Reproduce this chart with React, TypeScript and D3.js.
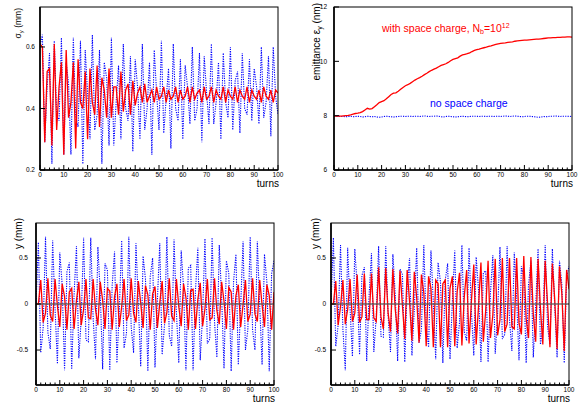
import * as d3 from 'd3';

const W = 579;
const H = 407;
const FONT = '"Liberation Sans", Arial, Helvetica, sans-serif';
const RED = '#ff0000';
const BLUE = '#0000ff';

// turn number is the array index (0..100)
const xTicks = [0, 10, 20, 30, 40, 50, 60, 70, 80, 90, 100];
const xMinorTicks = d3.range(0, 101, 2);

const sigmaTicks = [0.2, 0.4, 0.6];
const emitTicks = [6, 8, 10, 12];
const yTicks = [-0.5, 0, 0.5];

// rms beam size sigma_y (mm)
const sigmaNoSC = [
  0.60, 0.64, 0.29, 0.47, 0.58, 0.22, 0.62, 0.38, 0.36, 0.63,
  0.25, 0.55, 0.48, 0.25, 0.63, 0.37, 0.34, 0.62, 0.22, 0.59,
  0.45, 0.30, 0.64, 0.33, 0.38, 0.59, 0.22, 0.55, 0.50, 0.28,
  0.63, 0.28, 0.42, 0.54, 0.30, 0.61, 0.40, 0.36, 0.57, 0.26,
  0.56, 0.47, 0.30, 0.61, 0.33, 0.40, 0.55, 0.25, 0.59, 0.45,
  0.33, 0.62, 0.32, 0.43, 0.53, 0.27, 0.61, 0.40, 0.36, 0.56,
  0.30, 0.54, 0.47, 0.35, 0.60, 0.36, 0.40, 0.58, 0.29, 0.57,
  0.45, 0.35, 0.61, 0.35, 0.42, 0.55, 0.30, 0.58, 0.42, 0.37,
  0.60, 0.33, 0.49, 0.52, 0.32, 0.58, 0.40, 0.38, 0.56, 0.36,
  0.53, 0.47, 0.35, 0.60, 0.37, 0.42, 0.57, 0.31, 0.60, 0.44,
  0.38,
];
const sigmaSC = [
  0.61, 0.60, 0.29, 0.52, 0.53, 0.28, 0.61, 0.33, 0.47, 0.55,
  0.25, 0.59, 0.37, 0.42, 0.55, 0.27, 0.56, 0.42, 0.40, 0.52,
  0.30, 0.53, 0.42, 0.38, 0.54, 0.34, 0.50, 0.46, 0.37, 0.53,
  0.37, 0.47, 0.47, 0.38, 0.52, 0.39, 0.46, 0.48, 0.38, 0.49,
  0.41, 0.45, 0.47, 0.42, 0.48, 0.42, 0.44, 0.46, 0.42, 0.47,
  0.43, 0.44, 0.47, 0.42, 0.46, 0.43, 0.44, 0.47, 0.42, 0.46,
  0.43, 0.44, 0.47, 0.42, 0.47, 0.43, 0.45, 0.46, 0.42, 0.47,
  0.43, 0.44, 0.47, 0.42, 0.46, 0.44, 0.43, 0.47, 0.42, 0.46,
  0.44, 0.43, 0.47, 0.42, 0.46, 0.44, 0.43, 0.47, 0.42, 0.46,
  0.44, 0.43, 0.46, 0.42, 0.47, 0.44, 0.43, 0.46, 0.42, 0.46,
  0.45,
];

// emittance eps_y (nm)
const emitNoSC = [
  7.99, 7.98, 7.98, 7.97, 7.97, 7.96, 7.97, 7.98, 7.96, 7.97,
  7.98, 7.97, 7.95, 7.96, 7.98, 7.97, 7.96, 7.97, 7.95, 7.94,
  7.95, 7.97, 7.98, 7.97, 7.96, 7.95, 7.96, 7.97, 7.98, 7.98,
  7.97, 7.98, 7.98, 7.97, 7.98, 7.98, 7.97, 7.98, 7.99, 7.98,
  7.97, 7.98, 7.98, 7.99, 7.98, 7.96, 7.95, 7.97, 7.98, 7.97,
  7.96, 7.95, 7.96, 7.97, 7.98, 7.97, 7.96, 7.97, 7.98, 7.98,
  7.98, 7.97, 7.98, 7.98, 7.97, 7.98, 7.98, 7.97, 7.98, 7.98,
  7.97, 7.98, 7.99, 7.98, 7.97, 7.98, 7.99, 7.98, 7.97, 7.96,
  7.97, 7.98, 7.98, 7.97, 7.96, 7.95, 7.94, 7.95, 7.97, 7.96,
  7.97, 7.98, 7.98, 7.99, 7.98, 7.97, 7.98, 7.98, 7.98, 7.97,
  7.98,
];
const emitSC = [
  7.98, 7.98, 7.98, 7.98, 7.99, 8.00, 8.01, 8.03, 8.06, 8.08,
  8.09, 8.11, 8.15, 8.21, 8.27, 8.24, 8.26, 8.33, 8.40, 8.48,
  8.52, 8.55, 8.62, 8.70, 8.78, 8.83, 8.84, 8.90, 8.97, 9.04,
  9.10, 9.14, 9.19, 9.25, 9.31, 9.36, 9.40, 9.45, 9.51, 9.56,
  9.62, 9.67, 9.71, 9.75, 9.80, 9.85, 9.88, 9.91, 9.96, 10.02,
  10.07, 10.10, 10.13, 10.19, 10.24, 10.26, 10.28, 10.31, 10.36, 10.40,
  10.43, 10.45, 10.48, 10.50, 10.52, 10.55, 10.57, 10.60, 10.62, 10.64,
  10.66, 10.67, 10.68, 10.70, 10.71, 10.72, 10.74, 10.75, 10.76, 10.77,
  10.78, 10.78, 10.79, 10.80, 10.81, 10.82, 10.82, 10.83, 10.84, 10.85,
  10.86, 10.86, 10.87, 10.87, 10.88, 10.88, 10.89, 10.89, 10.90, 10.90,
  10.89,
];

// centroid y (mm), left case
const yNoSC1 = [
  0.00, 0.67, -0.53, -0.26, 0.73, -0.31, -0.49, 0.69, -0.05, -0.65,
  0.56, 0.21, -0.72, 0.35, 0.45, -0.71, 0.10, 0.63, -0.59, -0.16,
  0.72, -0.39, -0.41, 0.72, -0.15, -0.60, 0.62, 0.12, -0.71, 0.44,
  0.37, -0.72, 0.20, 0.57, -0.64, -0.07, 0.69, -0.48, -0.32, 0.73,
  -0.25, -0.53, 0.66, 0.01, -0.68, 0.52, 0.27, -0.73, 0.30, 0.50,
  -0.69, 0.04, 0.66, -0.55, -0.23, 0.73, -0.34, -0.46, 0.70, -0.09,
  -0.64, 0.58, 0.18, -0.72, 0.39, 0.42, -0.72, 0.14, 0.61, -0.61,
  -0.12, 0.71, -0.43, -0.38, 0.72, -0.19, -0.58, 0.64, 0.07, -0.70,
  0.47, 0.33, -0.73, 0.24, 0.54, -0.66, -0.02, 0.68, -0.50, -0.28,
  0.73, -0.28, -0.50, 0.68, -0.02, -0.66, 0.54, 0.24, -0.73, 0.33,
  0.47,
];
const ySC1 = [
  0.00, 0.00, 0.26, -0.20, -0.10, 0.28, -0.12, -0.19, 0.27, -0.02,
  -0.25, 0.22, 0.08, -0.28, 0.13, 0.17, -0.27, 0.04, 0.24, -0.23,
  -0.06, 0.27, -0.15, -0.16, 0.27, -0.06, -0.23, 0.24, 0.04, -0.27,
  0.17, 0.14, -0.28, 0.08, 0.22, -0.25, -0.03, 0.27, -0.18, -0.12,
  0.28, -0.10, -0.20, 0.25, 0.01, -0.26, 0.20, 0.10, -0.28, 0.11,
  0.19, -0.26, 0.01, 0.25, -0.21, -0.09, 0.28, -0.13, -0.18, 0.27,
  -0.03, -0.24, 0.22, 0.07, -0.28, 0.15, 0.16, -0.27, 0.05, 0.23,
  -0.24, -0.05, 0.27, -0.17, -0.15, 0.28, -0.07, -0.22, 0.24, 0.03,
  -0.27, 0.18, 0.13, -0.28, 0.09, 0.21, -0.25, -0.01, 0.26, -0.19,
  -0.11, 0.28, -0.11, -0.19, 0.26, -0.01, -0.25, 0.21, 0.09, -0.28,
  0.13,
];

// centroid y (mm), right case
const yNoSC2 = [
  0.00, 0.72, -0.46, -0.23, 0.64, -0.27, -0.72, 0.61, -0.04, -0.57,
  0.60, 0.19, -0.55, 0.31, 0.40, -0.62, 0.09, 0.55, -0.52, -0.14,
  0.63, -0.35, -0.36, 0.63, -0.13, -0.52, 0.54, 0.10, -0.62, 0.38,
  0.32, -0.63, 0.18, 0.50, -0.56, -0.06, 0.61, -0.42, -0.28, 0.64,
  -0.22, -0.47, 0.58, 0.01, -0.60, 0.45, 0.24, -0.64, 0.26, 0.44,
  -0.60, 0.03, 0.58, -0.48, -0.20, 0.64, -0.30, -0.40, 0.61, -0.08,
  -0.56, 0.51, 0.15, -0.63, 0.34, 0.36, -0.63, 0.12, 0.53, -0.54,
  -0.11, 0.62, -0.38, -0.33, 0.63, -0.17, -0.51, 0.56, 0.06, -0.61,
  0.41, 0.29, -0.64, 0.21, 0.47, -0.58, -0.02, 0.60, -0.44, -0.25,
  0.64, -0.25, -0.44, 0.60, -0.02, -0.58, 0.47, 0.21, -0.64, 0.29,
  0.41,
];
const ySC2 = [
  0.00, 0.00, 0.25, -0.23, -0.03, 0.26, -0.22, -0.06, 0.27, -0.19,
  -0.10, 0.32, -0.20, -0.14, 0.33, -0.17, -0.17, 0.33, -0.15, -0.19,
  0.40, -0.14, -0.27, 0.39, -0.10, -0.30, 0.38, -0.06, -0.32, 0.36,
  -0.01, -0.38, 0.37, 0.03, -0.40, 0.35, 0.07, -0.42, 0.32, 0.12,
  -0.46, 0.30, 0.17, -0.47, 0.26, 0.22, -0.47, 0.22, 0.26, -0.47,
  0.17, 0.30, -0.46, 0.13, 0.34, -0.45, 0.08, 0.37, -0.43, 0.03,
  0.43, -0.44, -0.02, 0.45, -0.41, -0.07, 0.47, -0.37, -0.12, 0.49,
  -0.34, -0.17, 0.50, -0.30, -0.22, 0.50, -0.25, -0.27, 0.50, -0.21,
  -0.33, 0.52, -0.16, -0.37, 0.51, -0.11, -0.41, 0.49, -0.05, -0.44,
  0.47, 0.00, -0.47, 0.44, 0.05, -0.49, 0.41, 0.11, -0.51, 0.37,
  0.16,
];

type Box = { l: number; r: number; t: number; b: number };
type Series = { data: number[]; color: string; dotted?: boolean };

function Panel(props: {
  id: string;
  box: Box;
  yDomain: [number, number];
  ticks: number[];
  fmt: (v: number) => string;
  gap: number;
  series: Series[];
  zero?: boolean;
  title: any;
  titleSize?: number;
  titleX: number;
  titleEnd: number;
  children?: any;
}) {
  const { id, box, yDomain, ticks, fmt, gap, series, zero, title, titleX, titleEnd, children } = props;
  const titleSize = props.titleSize ?? 10;
  const x = d3.scaleLinear().domain([0, 100]).range([box.l, box.r]);
  const y = d3.scaleLinear().domain(yDomain).range([box.b, box.t]);
  const line = d3
    .line<number>()
    .x((_, i) => x(i))
    .y((d) => y(d));

  return (
    <g>
      <defs>
        <clipPath id={id}>
          <rect x={box.l} y={box.t} width={box.r - box.l} height={box.b - box.t} />
        </clipPath>
      </defs>
      <g clipPath={`url(#${id})`}>
        {series.map((s, k) => (
          <path
            key={k}
            d={line(s.data) || ''}
            fill="none"
            stroke={s.color}
            strokeWidth={s.dotted ? 1.1 : 1.3}
            strokeDasharray={s.dotted ? '1.2 1.2' : undefined}
          />
        ))}
        {zero && (
          <line x1={box.l} x2={box.r} y1={y(0)} y2={y(0)} stroke="#555" strokeWidth={1.6} opacity={0.85} />
        )}
      </g>
      {/* frame */}
      <rect x={box.l} y={box.t} width={box.r - box.l} height={box.b - box.t} fill="none" stroke="#000" strokeWidth={1} />
      <line x1={box.l} x2={box.l} y1={box.t} y2={box.b} stroke="#000" strokeWidth={1.6} />
      <line x1={box.l} x2={box.r} y1={box.b} y2={box.b} stroke="#000" strokeWidth={1.6} />
      {/* x ticks */}
      {xMinorTicks.map((t) => (
        <line key={'m' + t} x1={x(t)} x2={x(t)} y1={box.b} y2={box.b - (t % 10 === 0 ? 5 : 2.5)} stroke="#000" strokeWidth={1} />
      ))}
      {xTicks.map((t) => (
        <text key={'xt' + t} x={x(t)} y={box.b + 7} fontSize={6.5} textAnchor="middle" fontFamily={FONT}>
          {t}
        </text>
      ))}
      <text x={box.r + 1} y={box.b + 17} fontSize={10} textAnchor="end" fontFamily={FONT}>
        turns
      </text>
      {/* y ticks */}
      {ticks.map((t) => (
        <g key={'yt' + t}>
          <line x1={box.l} x2={box.l + 5} y1={y(t)} y2={y(t)} stroke="#000" strokeWidth={1} />
          <text x={box.l - gap} y={y(t) + 2.3} fontSize={6.5} textAnchor="end" fontFamily={FONT}>
            {fmt(t)}
          </text>
        </g>
      ))}
      <text
        transform={`translate(${titleX},${titleEnd}) rotate(-90)`}
        fontSize={titleSize}
        textAnchor="end"
        fontFamily={FONT}
      >
        {title}
      </text>
      {children}
    </g>
  );
}

export default function App() {
  const one = (v: number) => (v === 0 ? '0' : String(v));
  return (
    <svg
      width={W}
      height={H}
      viewBox={`0 0 ${W} ${H}`}
      style={{ position: 'absolute', left: 0, top: 0, background: '#fff' }}
    >
      <rect width={W} height={H} fill="#fff" />
      <Panel
        id="c1"
        box={{ l: 40, r: 278, t: 7, b: 170 }}
        yDomain={[0.2, 0.73]}
        ticks={sigmaTicks}
        fmt={(v) => v.toFixed(1)}
        gap={5}
        series={[
          { data: sigmaNoSC, color: BLUE, dotted: true },
          { data: sigmaSC, color: RED },
        ]}
        title={
          <>
            <tspan>σ</tspan>
            <tspan fontSize={6} dy={2}>y</tspan>
            <tspan dy={-2}> (mm)</tspan>
          </>
        }
        titleSize={8.5}
        titleX={21}
        titleEnd={8}
      />
      <Panel
        id="c2"
        box={{ l: 334, r: 572, t: 7, b: 170 }}
        yDomain={[6, 12]}
        ticks={emitTicks}
        fmt={one}
        gap={7}
        series={[
          { data: emitNoSC, color: BLUE, dotted: true },
          { data: emitSC, color: RED },
        ]}
        title={
          <>
            <tspan>emittance ε</tspan>
            <tspan fontSize={7} dy={2}>y</tspan>
            <tspan dy={-2}> (nm)</tspan>
          </>
        }
        titleX={320}
        titleEnd={3}
      >
        <text x={382} y={32} fontSize={10.5} fill={RED} fontFamily={FONT}>
          <tspan>with space charge, N</tspan>
          <tspan fontSize={7} dy={2}>b</tspan>
          <tspan dy={-2}>=10</tspan>
          <tspan fontSize={7} dy={-4}>12</tspan>
        </text>
        <text x={430} y={107} fontSize={10.5} fill={BLUE} fontFamily={FONT}>
          no space charge
        </text>
      </Panel>
      <Panel
        id="c3"
        box={{ l: 36, r: 274, t: 223, b: 385 }}
        yDomain={[-0.88, 0.88]}
        ticks={yTicks}
        fmt={one}
        gap={8}
        series={[
          { data: yNoSC1, color: BLUE, dotted: true },
          { data: ySC1, color: RED },
        ]}
        zero
        title="y (mm)"
        titleX={21.5}
        titleEnd={218}
      />
      <Panel
        id="c4"
        box={{ l: 331, r: 569, t: 223, b: 385 }}
        yDomain={[-0.88, 0.88]}
        ticks={yTicks}
        fmt={one}
        gap={5}
        series={[
          { data: yNoSC2, color: BLUE, dotted: true },
          { data: ySC2, color: RED },
        ]}
        zero
        title="y (mm)"
        titleX={319}
        titleEnd={218}
      />
    </svg>
  );
}
